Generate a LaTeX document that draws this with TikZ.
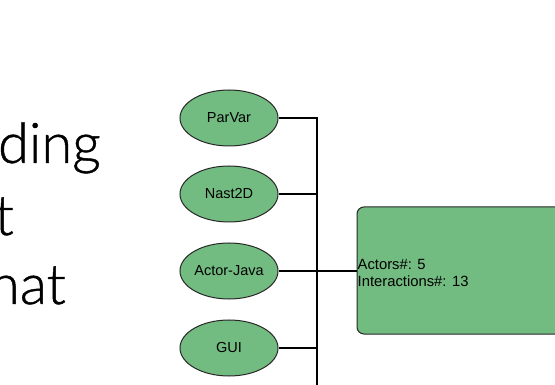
\documentclass[tikz,border=0pt]{standalone}
\usepackage{fontspec}
\setmainfont{Liberation Sans}
\newfontfamily\slidefont[FakeBold=0.8]{Lato Light}
\usetikzlibrary{shapes.geometric}
\definecolor{nodegreen}{RGB}{115,188,129}
\definecolor{edgegray}{RGB}{40,40,40}
\tikzset{
  comp/.style={ellipse, draw=edgegray, line width=1pt, fill=nodegreen,
    minimum width=98pt, minimum height=56pt, inner sep=0pt,
    font=\fontsize{14.5}{16}\selectfont},
  summary/.style={draw=edgegray, line width=1pt, fill=nodegreen,
    rounded corners=7pt},
  wire/.style={line width=1.2pt, black},
  bus/.style={line width=2pt, black},
  slidetext/.style={anchor=base east, inner sep=0pt,
    font=\slidefont\fontsize{56}{60}\selectfont}
}
\begin{document}
\begin{tikzpicture}[x=1pt,y=-1pt]
\useasboundingbox (0,0) rectangle (555,385);
\clip (0,0) rectangle (555,385);

% slide text running off the left edge
\node[slidetext] (l1) at (101,163) {ding};
\node[slidetext] (l2) at (14,235) {t};
\node[slidetext] (l3) at (66,304) {hat};

% components
\node[comp] (parvar) at (229,118) {ParVar};
\node[comp] (nast)   at (229,194) {Nast2D};
\node[comp] (actor)  at (229,271) {Actor-Java};
\node[comp] (gui)    at (229,348) {GUI};

% summary box
\draw[summary] (357,207) rectangle (600,334);
\coordinate (boxin) at (357,271);
\node[anchor=north west, inner sep=0pt, align=left,
      font=\fontsize{14.8}{16.8}\selectfont] (stats) at (357.5,259)
  {Actors\#: 5\\Interactions\#: 13};

% connectors
\coordinate (busTop) at (317,118);
\coordinate (busN) at (317,194);
\coordinate (busA) at (317,271);
\coordinate (busG) at (317,348);
\coordinate (busEnd) at (317,390);
\draw[wire] (parvar.east) -- (busTop) -- (busN);
\draw[wire] (nast.east) -- (busN);
\draw[wire] (actor.east) -- (busA);
\draw[wire] (gui.east) -- (busG);
\draw[bus] (busN) -- (busEnd);
\draw[bus] (busA) -- (boxin);
\end{tikzpicture}
\end{document}
